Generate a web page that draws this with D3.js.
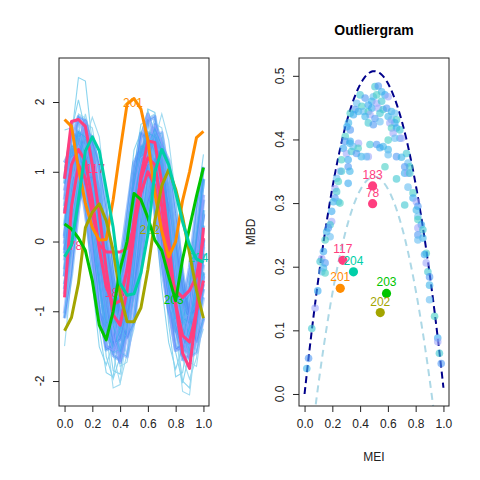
<!DOCTYPE html>
<html><head><meta charset="utf-8">
<script src="https://cdn.jsdelivr.net/npm/d3@7"></script>
<style>body{margin:0;background:#fff}text{font-family:"Liberation Sans",Arial,sans-serif}</style>
</head><body><svg id="c" width="480" height="480"></svg>
<script>
// ---------- data ----------
const tGrid = [0,0.05,0.1,0.15,0.2,0.25,0.3,0.35,0.4,0.45,0.5,0.55,0.6,0.65,0.7,0.75,0.8,0.85,0.9,0.95,1];
const bgCurves = [
[0.05,0.92,1.40,1.47,0.85,-0.04,-0.85,-1.47,-1.40,-0.91,0.03,0.86,1.45,1.39,0.90,0.02,-0.92,-1.40,-1.46,-0.85,0.04],
[-0.40,0.57,1.30,1.68,1.36,0.50,-0.46,-1.20,-1.58,-1.27,-0.41,0.58,1.31,1.62,1.37,0.51,-0.47,-1.22,-1.57,-1.21,-0.46],
[0.41,1.05,1.38,1.04,0.40,-0.45,-1.21,-1.43,-1.14,-0.50,0.35,1.10,1.33,1.11,0.35,-0.51,-1.16,-1.48,-1.15,-0.45,0.40],
[-0.75,0.13,0.95,1.56,1.50,0.95,0.14,-0.80,-1.30,-1.36,-0.75,0.07,1.01,1.50,1.56,0.94,0.12,-0.81,-1.35,-1.30,-0.80],
[0.90,1.55,1.49,0.97,0.04,-0.91,-1.55,-1.49,-0.96,0.03,0.91,1.55,1.48,0.97,-0.03,-0.90,-1.54,-1.50,-0.92,0.04,0.90],
[0.08,1.08,1.79,1.72,1.14,0.02,-1.04,-1.63,-1.70,-0.98,0.08,1.14,1.73,1.79,1.08,0.08,-1.04,-1.69,-1.63,-1.04,0.02],
[-0.50,0.30,0.84,1.13,0.85,0.30,-0.44,-1.10,-1.27,-1.04,-0.50,0.24,0.90,1.07,0.89,0.24,-0.44,-1.10,-1.33,-1.04,-0.44],
[0.60,1.51,1.77,1.50,0.60,-0.40,-1.31,-1.57,-1.30,-0.46,0.66,1.45,1.82,1.45,0.66,-0.46,-1.25,-1.63,-1.25,-0.40,0.60],
[-0.04,0.68,1.02,1.08,0.62,0.04,-0.68,-1.02,-1.08,-0.62,-0.03,0.68,1.02,1.08,0.62,0.03,-0.68,-1.02,-1.08,-0.62,-0.04],
[-1.10,-0.46,0.46,1.10,1.43,1.10,0.46,-0.40,-1.16,-1.37,-1.16,-0.40,0.40,1.16,1.37,1.16,0.40,-0.46,-1.10,-1.43,-1.10],
[1.13,1.32,1.13,0.42,-0.32,-1.03,-1.22,-1.03,-0.32,0.42,1.13,1.32,1.13,0.42,-0.38,-0.97,-1.28,-0.97,-0.38,0.48,1.07],
[-1.08,-0.02,0.98,1.69,1.63,1.04,-0.08,-1.08,-1.79,-1.73,-1.14,-0.02,0.98,1.69,1.63,1.04,-0.08,-1.14,-1.73,-1.79,-1.08],
[0.83,1.37,1.31,0.89,0.07,-0.63,-1.17,-1.11,-0.69,0.13,0.83,1.37,1.31,0.89,0.13,-0.69,-1.11,-1.17,-0.63,0.07,0.89],
[0.20,1.50,2.35,2.30,1.40,0.10,-1.15,-1.85,-1.90,-1.10,0.05,1.15,1.90,1.85,1.10,0.00,-1.25,-2.00,-2.10,-1.30,-0.10],
[-0.66,0.52,1.41,1.83,1.41,0.52,-0.72,-1.61,-2.03,-1.61,-0.72,0.46,1.47,1.77,1.47,0.46,-0.66,-1.67,-1.97,-1.67,-0.66],
[0.44,0.88,1.13,0.88,0.44,-0.24,-0.68,-0.93,-0.68,-0.24,0.44,0.88,1.13,0.88,0.38,-0.18,-0.74,-0.87,-0.74,-0.18,0.38],
[-0.27,0.63,1.29,1.63,1.29,0.57,-0.33,-0.99,-1.33,-0.99,-0.27,0.57,1.35,1.57,1.35,0.63,-0.27,-1.05,-1.27,-1.05,-0.33],
[-0.12,0.61,1.16,1.10,0.67,-0.18,-0.91,-1.46,-1.40,-0.97,-0.12,0.67,1.10,1.16,0.61,-0.12,-0.97,-1.40,-1.46,-0.91,-0.18],
[-0.68,0.03,0.68,1.17,1.11,0.74,-0.03,-0.68,-1.17,-1.11,-0.74,0.03,0.68,1.17,1.11,0.74,-0.03,-0.74,-1.11,-1.17,-0.68],
[1.05,1.68,1.74,0.99,-0.07,-1.25,-1.88,-1.94,-1.19,-0.13,1.05,1.68,1.74,0.99,-0.13,-1.19,-1.94,-1.88,-1.25,-0.07,0.99],
[0.51,1.22,1.58,1.22,0.51,-0.45,-1.28,-1.52,-1.28,-0.45,0.45,1.28,1.52,1.28,0.45,-0.51,-1.22,-1.58,-1.22,-0.51,0.45],
[-0.50,0.56,1.35,1.73,1.35,0.50,-0.56,-1.35,-1.73,-1.35,-0.56,0.50,1.41,1.67,1.41,0.56,-0.50,-1.41,-1.67,-1.41,-0.50],
[-0.02,0.86,1.50,1.44,0.92,-0.08,-0.96,-1.60,-1.54,-1.02,-0.02,0.92,1.44,1.50,0.86,-0.02,-1.02,-1.54,-1.60,-0.96,-0.08],
[-1.50,-0.50,0.60,1.45,1.78,1.50,0.60,-0.46,-1.31,-1.63,-1.25,-0.40,0.66,1.45,1.83,1.45,0.66,-0.40,-1.31,-1.57,-1.25],
[1.60,1.63,1.25,0.46,-0.60,-1.51,-1.77,-1.45,-0.66,0.40,1.31,1.57,1.31,0.40,-0.66,-1.45,-1.83,-1.51,-0.60,0.46,1.25],
[-0.07,1.05,1.83,1.77,1.11,-0.13,-1.31,-2.10,-2.05,-1.25,-0.07,1.11,1.77,1.83,1.05,-0.13,-1.25,-2.15,-2.20,-1.31,-0.07],
[-0.61,-0.08,0.57,0.87,0.93,0.51,-0.02,-0.67,-0.97,-1.03,-0.61,-0.08,0.57,0.87,0.93,0.51,-0.02,-0.67,-1.03,-0.97,-0.61],
[0.65,1.59,2.03,1.59,0.65,-0.59,-1.65,-1.97,-1.65,-0.59,0.59,1.55,1.88,1.55,0.65,-0.65,-1.59,-2.03,-1.59,-0.65,0.59],
[-0.17,0.57,1.28,1.47,1.28,0.57,-0.23,-0.82,-1.13,-0.82,-0.23,0.63,1.22,1.53,1.22,0.63,-0.17,-0.88,-1.07,-0.88,-0.17],
[0.23,0.99,1.56,1.50,1.05,0.17,-0.59,-1.16,-1.10,-0.65,0.23,0.99,1.56,1.50,1.05,0.17,-0.65,-1.10,-1.16,-0.59,0.23],
[0.73,1.20,1.26,0.67,-0.12,-1.03,-1.50,-1.56,-0.97,-0.18,0.73,1.20,1.26,0.67,-0.18,-0.97,-1.56,-1.50,-1.03,-0.12,0.67],
[-1.03,-0.18,0.79,1.29,1.35,0.73,-0.12,-1.09,-1.59,-1.65,-1.03,-0.12,0.73,1.35,1.29,0.79,-0.18,-1.03,-1.65,-1.59,-1.09]
];
// curves drawn as the light outer envelope (index into bgCurves)
const edgeCurves = [13,25,27,23,24,19,14,11];
// outlier curves
const outIds   = ["78","117","183","201","202","203","204"];
const out78  = [0.90,1.72,1.75,1.65,1.10,0.40,-0.40,-1.05,-1.20,-0.70,0.10,0.95,1.44,1.42,0.85,0.00,-0.90,-1.60,-1.82,-1.00,0.20];
const out117 = [0.40,1.10,1.32,1.15,0.60,-0.10,-0.65,-0.90,-0.85,-0.40,0.30,0.90,1.20,1.10,0.50,-0.30,-0.90,-1.35,-1.44,-1.00,-0.56];
const out183 = [-0.80,0.50,1.10,0.90,0.40,-0.05,-0.15,-0.15,-0.15,-0.10,0.20,0.70,1.00,0.80,0.20,-0.40,-0.70,-0.80,-0.70,-0.50,0.05];
const out201 = [1.75,1.65,1.05,0.55,0.20,0.02,0.03,0.60,1.30,1.97,2.05,1.90,1.45,0.69,0.15,-0.22,0.00,0.59,1.00,1.49,1.58];
const out202 = [-1.28,-1.09,-0.60,0.20,0.42,0.54,0.30,-0.13,-0.75,-1.15,-1.15,-0.95,-0.40,0.30,0.80,1.03,0.75,0.35,-0.17,-0.70,-1.10];
const out203 = [0.25,0.18,0.05,-0.13,-0.56,-1.20,-1.41,-1.00,-0.40,0.00,0.69,0.60,0.34,0.02,-0.13,-0.50,-0.85,-0.25,0.20,0.65,1.06];
const out204 = [-0.22,-0.05,0.60,1.30,1.50,1.30,0.75,0.20,-0.60,-0.77,-0.75,-0.45,0.10,1.00,1.32,1.10,0.70,0.28,-0.05,-0.25,-0.30];
const outLabelT = [0.079,0.221,0.364,0.493,0.614,0.786,0.964];
const outLabelV = [-0.06,1.04,-0.74,1.99,0.16,-0.84,-0.23];
// outliergram
const bgMEI = [0.507,0.531,0.555,0.495,0.519,0.579,0.602,0.400,0.436,0.484,0.376,0.412,0.459,0.519,0.555,0.364,0.388,0.424,0.459,0.484,0.531,0.566,0.591,0.626,0.650,0.329,0.352,0.471,0.543,0.507,0.602,0.626,0.662,0.650,0.614,0.459,0.495,0.436,0.543,0.626,0.662,0.638,0.686,0.329,0.316,0.686,0.293,0.329,0.388,0.471,0.519,0.566,0.650,0.602,
0.305,0.698,0.734,0.662,0.698,0.745,0.757,0.721,0.745,0.662,0.721,0.602,0.602,0.579,0.543,0.459,0.757,
0.291,0.326,0.350,0.386,0.279,0.302,0.338,0.374,0.409,0.445,0.266,0.314,0.255,0.266,0.314,0.326,0.231,0.243,0.314,0.219,0.231,0.219,0.207,0.243,0.255,0.195,0.195,0.184,0.171,0.159,0.184,0.148,0.136,0.124,0.112,0.148,0.136,0.124,0.148,0.095,0.076,0.052,0.029,0.016,
0.745,0.781,0.781,0.805,0.721,0.816,0.805,0.816,0.816,0.841,0.816,0.852,0.816,0.852,0.816,0.876,0.864,0.876,0.888,0.900,0.900,0.900,0.936,0.959,0.959,0.971,0.984];
const bgMBD = [0.483,0.484,0.475,0.467,0.470,0.470,0.467,0.470,0.465,0.460,0.457,0.452,0.454,0.457,0.460,0.447,0.444,0.444,0.444,0.449,0.449,0.447,0.449,0.444,0.441,0.441,0.439,0.439,0.441,0.433,0.436,0.431,0.431,0.426,0.426,0.426,0.423,0.436,0.428,0.418,0.418,0.410,0.415,0.415,0.426,0.402,0.405,0.397,0.394,0.392,0.392,0.389,0.402,0.399,
0.420,0.402,0.378,0.373,0.372,0.363,0.357,0.347,0.347,0.338,0.357,0.384,0.376,0.357,0.387,0.373,0.347,
0.397,0.394,0.389,0.386,0.386,0.378,0.381,0.378,0.373,0.373,0.368,0.368,0.350,0.350,0.357,0.350,0.339,0.334,0.331,0.323,0.318,0.308,0.302,0.302,0.300,0.287,0.271,0.266,0.261,0.255,0.247,0.242,0.224,0.213,0.208,0.206,0.198,0.192,0.190,0.162,0.135,0.103,0.056,0.040,
0.325,0.316,0.308,0.302,0.297,0.295,0.289,0.279,0.274,0.266,0.261,0.258,0.250,0.245,0.242,0.221,0.219,0.206,0.192,0.184,0.171,0.148,0.122,0.088,0.082,0.064,0.048];
const outMEI = [0.490,0.276,0.490,0.257,0.545,0.590,0.352];
const outMBD = [0.299,0.210,0.327,0.166,0.128,0.158,0.192];
const nObs = 204;
const xTicks = [0,0.2,0.4,0.6,0.8,1];
const yTicksL = [-2,-1,0,1,2];
const yTicksR = [0,0.1,0.2,0.3,0.4,0.5];

// ---------- styles ----------
const outColors = ["#FF3E7F","#FF3E7F","#FF3E7F","#FF8C00","#A3A500","#00C400","#00CFA8"];
const corePal = ["#4A8CF8","#3FA2F2","#5B8FF8","#7E9CFF","#4696F6"];
const thinPal = ["#5C9EF8","#3DAAF0","#8FA0FF","#5AB8F0","#4F8EF6"];

const svg = d3.select("#c");
const L = {x0:59,x1:209,y0:58,y1:406};
const R = {x0:299,x1:449,y0:58,y1:406};
const xl = d3.scaleLinear().domain([-0.04,1.04]).range([L.x0,L.x1]);
const yl = d3.scaleLinear().domain([-2.358,2.631]).range([L.y1,L.y0]);
const xr = d3.scaleLinear().domain([-0.04,1.04]).range([R.x0,R.x1]);
const yr = d3.scaleLinear().domain([-0.0189,0.528]).range([R.y1,R.y0]);

function frame(P, xs, ys, yt, yfmt, ylabX){
  svg.append("rect").attr("x",P.x0).attr("y",P.y0).attr("width",P.x1-P.x0).attr("height",P.y1-P.y0)
    .attr("fill","none").attr("stroke","#222").attr("stroke-width",1);
  const gx = svg.append("g").attr("transform",`translate(0,${P.y1})`)
    .call(d3.axisBottom(xs).tickValues(xTicks).tickFormat(d3.format(".1f")).tickSize(6).tickSizeOuter(0));
  gx.select(".domain").remove();
  gx.selectAll("line").attr("stroke","#222");
  gx.selectAll("text").attr("font-size",12).attr("fill","#222").attr("dy","1.05em");
  const gy = svg.append("g").attr("transform",`translate(${P.x0},0)`)
    .call(d3.axisLeft(ys).tickValues(yt).tickSize(6).tickSizeOuter(0).tickFormat(()=>""));
  gy.select(".domain").remove();
  gy.selectAll("line").attr("stroke","#222");
  svg.append("g").selectAll("text").data(yt).join("text")
    .attr("transform",d=>`translate(${ylabX},${ys(d)}) rotate(-90)`)
    .attr("text-anchor","middle").attr("font-size",12).attr("fill","#222").text(yfmt);
}

// ---------- left panel ----------
svg.append("defs").append("clipPath").attr("id","clipL").append("rect")
  .attr("x",L.x0).attr("y",L.y0).attr("width",L.x1-L.x0).attr("height",L.y1-L.y0);
const line = d3.line().x((d,i)=>xl(tGrid[i])).y(d=>yl(d));
const gL = svg.append("g").attr("clip-path","url(#clipL)");
const isEdge = i => edgeCurves.includes(i);
// light outer curves
gL.selectAll("path.edge").data(bgCurves.filter((d,i)=>isEdge(i))).join("path").attr("class","edge")
  .attr("d",line).attr("fill","none")
  .attr("stroke",(d,i)=>i%2?"#86D3EE":"#9CD9F0").attr("stroke-opacity",0.95).attr("stroke-width",1.1);
const core = bgCurves.filter((d,i)=>!isEdge(i));
gL.selectAll("path.bg").data(core).join("path").attr("class","bg")
  .attr("d",line).attr("fill","none")
  .attr("stroke",(d,i)=>corePal[i%corePal.length]).attr("stroke-opacity",0.5).attr("stroke-width",3.6)
  .attr("stroke-linejoin","round");
gL.selectAll("path.bg2").data(core).join("path").attr("class","bg2")
  .attr("d",line).attr("fill","none")
  .attr("stroke",(d,i)=>thinPal[i%thinPal.length]).attr("stroke-opacity",0.8).attr("stroke-width",1);
gL.selectAll("text.ol").data(outIds).join("text").attr("class","ol")
  .attr("x",(d,i)=>xl(outLabelT[i])).attr("y",(d,i)=>yl(outLabelV[i])+4)
  .attr("text-anchor","middle").attr("font-size",12).attr("fill",(d,i)=>outColors[i]).text(d=>d);
const outCurves = [out78,out117,out183,out201,out202,out203,out204];
gL.selectAll("path.out").data(outCurves).join("path").attr("class","out")
  .attr("d",line).attr("fill","none")
  .attr("stroke",(d,i)=>outColors[i]).attr("stroke-width",3).attr("stroke-linejoin","round");
frame(L, xl, yl, yTicksL, d=>d, 44);

// ---------- right panel ----------
svg.append("defs").append("clipPath").attr("id","clipR").append("rect")
  .attr("x",R.x0).attr("y",R.y0).attr("width",R.x1-R.x0).attr("height",R.y1-R.y0);
const gR = svg.append("g").attr("clip-path","url(#clipR)");
const a0 = -2/(nObs*(nObs-1)), a1 = 2*(nObs+1)/(nObs-1), a2 = a0;
const parab = m => a0 + a1*m + a2*nObs*nObs*m*m;
const mGrid = d3.range(0,1.0001,0.005);
const shift = 0.166;
gR.append("path").datum(mGrid).attr("fill","none").attr("stroke","#ADD8E6").attr("stroke-width",2)
  .attr("stroke-dasharray","7,5")
  .attr("d",d3.line().x(m=>xr(m)).y(m=>yr(parab(m)-shift)));
gR.append("path").datum(mGrid).attr("fill","none").attr("stroke","#00008B").attr("stroke-width",2)
  .attr("stroke-dasharray","7,4")
  .attr("d",d3.line().x(m=>xr(m)).y(m=>yr(parab(m))));
const ptPal = ["#3CC6D0","#36A8F0","#62BDF2","#4E98F4","#9FA6FA","#45CFC4","#3AB4EA"];
gR.selectAll("circle.bg").data(bgMEI).join("circle").attr("class","bg")
  .attr("cx",d=>xr(d)).attr("cy",(d,i)=>yr(bgMBD[i])).attr("r",3.8)
  .attr("fill",(d,i)=>ptPal[(i*3)%ptPal.length]).attr("fill-opacity",0.6);
gR.selectAll("circle.out").data(outMEI).join("circle").attr("class","out")
  .attr("cx",d=>xr(d)).attr("cy",(d,i)=>yr(outMBD[i])).attr("r",4.6)
  .attr("fill",(d,i)=>outColors[i]);
svg.selectAll("text.op").data(outIds).join("text").attr("class","op")
  .attr("x",(d,i)=>xr(outMEI[i])).attr("y",(d,i)=>yr(outMBD[i])-7)
  .attr("text-anchor","middle").attr("font-size",12).attr("fill",(d,i)=>outColors[i]).text(d=>d);
frame(R, xr, yr, yTicksR, d3.format(".1f"), 284);

svg.append("text").attr("x",374).attr("y",35).attr("text-anchor","middle")
  .attr("font-size",14).attr("font-weight","bold").attr("fill","#000").text("Outliergram");
svg.append("text").attr("x",374).attr("y",461).attr("text-anchor","middle")
  .attr("font-size",12).attr("fill","#222").text("MEI");
svg.append("text").attr("transform","translate(255,232) rotate(-90)").attr("text-anchor","middle")
  .attr("font-size",12).attr("fill","#222").text("MBD");
</script></body></html>
